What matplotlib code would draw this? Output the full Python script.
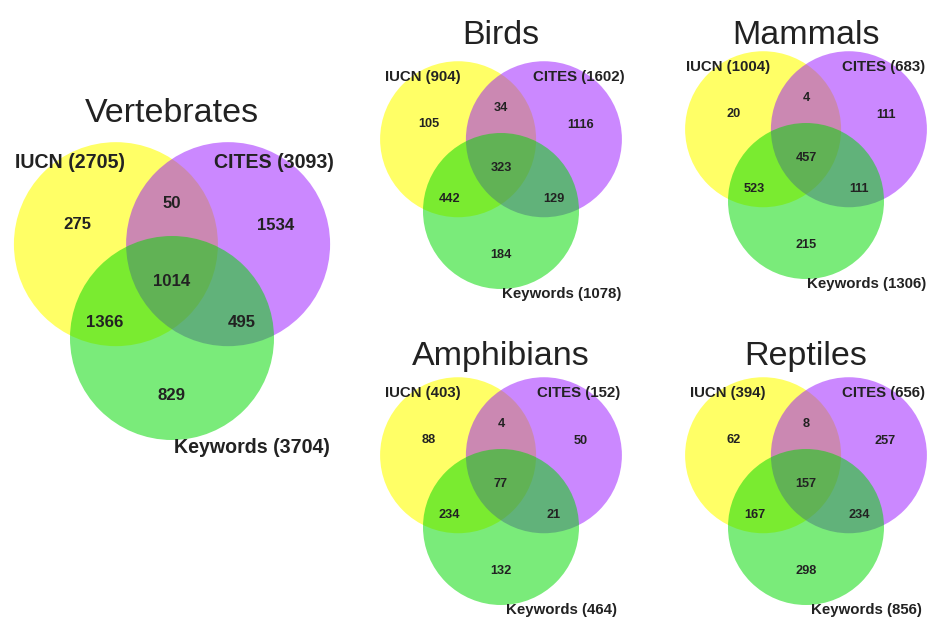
import matplotlib.pyplot as plt
from matplotlib.patches import Circle

plt.rcParams['font.family'] = ['Liberation Sans', 'DejaVu Sans']

# Daten aus der Abbildung
groups = ["Vertebrates", "Birds", "Mammals", "Amphibians", "Reptiles"]
iucn_total = [2705, 904, 1004, 403, 394]
cites_total = [3093, 1602, 683, 152, 656]
keyword_total = [3704, 1078, 1306, 464, 856]
# Regionen: nur IUCN, IUCN+CITES, nur CITES, alle drei, IUCN+Keywords, CITES+Keywords, nur Keywords
iucn_only = [275, 105, 20, 88, 62]
iucn_cites = [50, 34, 4, 4, 8]
cites_only = [1534, 1116, 111, 50, 257]
all_three = [1014, 323, 457, 77, 157]
iucn_kw = [1366, 442, 523, 234, 167]
cites_kw = [495, 129, 111, 21, 234]
kw_only = [829, 184, 215, 132, 298]

# Layout: Mittelpunkt des gruenen Kreises (Pixel), Radius und Titelhoehe je Panel
centers = [(172, 338), (501, 211), (806, 201), (501, 527), (806, 527)]
radii = [102, 78, 78, 78, 78]
title_y = [113, 36, 36, 357, 357]

# Positionen relativ zum gruenen Kreis, in Radien (y nach unten)
circle_offsets = [(-0.55, -0.92), (0.55, -0.92), (0.0, 0.0)]
region_offsets = [(-0.93, -1.11), (0.0, -1.32), (1.02, -1.10), (0.0, -0.55),
                  (-0.66, -0.15), (0.68, -0.15), (0.0, 0.56)]
label_offsets = [(-1.0, -1.72), (1.0, -1.72), (0.78, 1.07)]

colors = [(1.0, 1.0, 0.0, 0.6), (0.6, 0.07, 1.0, 0.5), (0.0, 0.85, 0.0, 0.52)]

fig = plt.figure(figsize=(9.28, 6.2), dpi=100)
ax = fig.add_axes([0, 0, 1, 1])
ax.set_xlim(0, 928)
ax.set_ylim(620, 0)
ax.set_aspect('equal')
ax.axis('off')

for i, name in enumerate(groups):
    cx, cy = centers[i]
    r = radii[i]
    s = r / 78.0

    for (dx, dy), col in zip(circle_offsets, colors):
        ax.add_patch(Circle((cx + dx * r, cy + dy * r), r, facecolor=col, edgecolor='none'))

    counts = [iucn_only[i], iucn_cites[i], cites_only[i], all_three[i],
              iucn_kw[i], cites_kw[i], kw_only[i]]
    for (dx, dy), n in zip(region_offsets, counts):
        ax.text(cx + dx * r, cy + dy * r, str(n), ha='center', va='center',
                fontsize=9.2 * s, fontweight='bold', color='#222222')

    labels = [f"IUCN ({iucn_total[i]})", f"CITES ({cites_total[i]})",
              f"Keywords ({keyword_total[i]})"]
    for (dx, dy), lab in zip(label_offsets, labels):
        ax.text(cx + dx * r, cy + dy * r, lab, ha='center', va='center',
                fontsize=10.8 * s, fontweight='bold', color='#222222')

    ax.text(cx, title_y[i], name, ha='center', va='center', fontsize=24.5, color='#222222')

plt.savefig("out.png", dpi=100)
